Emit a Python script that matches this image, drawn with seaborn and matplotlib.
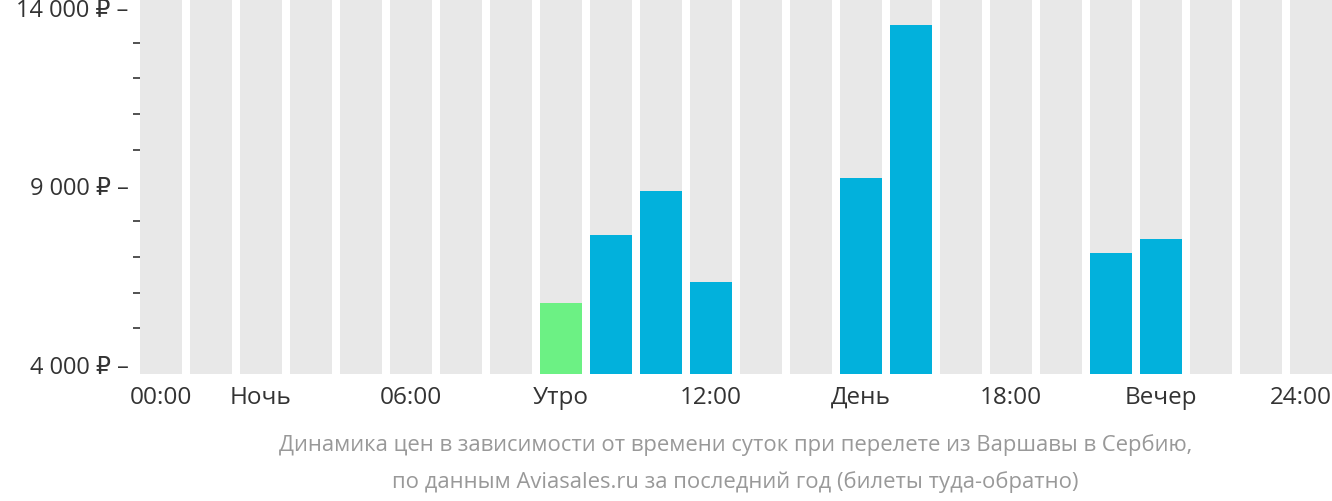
import matplotlib
matplotlib.use("Agg")
import matplotlib.pyplot as plt
import seaborn as sns
import pandas as pd
import numpy as np

hours = list(range(24))
prices = [0,0,0,0,0,0,0,0,5700,7600,8850,6300,0,0,9200,13500,0,0,0,7100,7500,0,0,0]
colors = ["#e8e8e8"]*24
for h in range(24):
    if prices[h] > 0:
        colors[h] = "#02b1dc"
colors[8] = "#6cf184"
xtick_pos = [0,2,5,8,11,14,17,20,23]
xtick_labels = ["00:00","Ночь","06:00","Утро","12:00","День","18:00","Вечер","24:00"]
ytick_major = [4000, 9000, 14000]
ytick_labels = ["4 000 ₽ –", "9 000 ₽ –", "14 000 ₽ –"]

plt.rcParams["font.family"] = ["Open Sans", "DejaVu Sans"]
fig = plt.figure(figsize=(13.32, 5.02), dpi=100)
ax = fig.add_axes([0.105, 0.253, 0.895, 0.747])
ymin, ymax = 3720, 14224
bg = pd.DataFrame({"h": hours, "v": [ymax - ymin]*24})
sns.barplot(data=bg, x="h", y="v", color="#e8e8e8", width=0.84, ax=ax, bottom=ymin, saturation=1)
df = pd.DataFrame({"h": hours, "v": [p - ymin if p > 0 else 0 for p in prices]})
sns.barplot(data=df, x="h", y="v", hue="h", palette=colors, width=0.84, ax=ax,
            bottom=ymin, saturation=1, legend=False)
ax.set_ylim(ymin, ymax)
ax.set_xlim(-0.42, 23.42)
for s in ax.spines.values():
    s.set_visible(False)
pos = list(xtick_pos)
pos[-1] = 23.42
ax.set_xticks(pos)
labs = ax.set_xticklabels(xtick_labels, fontsize=17.5, color="#333333")
labs[-1].set_ha("right")
ax.tick_params(axis="x", length=0, pad=8)
ax.set_yticks(ytick_major)
ax.set_yticklabels(ytick_labels, fontsize=17, color="#333333")
ax.tick_params(axis="y", length=0, pad=8)
ax.set_yticks([y for y in range(5000, 14000, 1000) if y not in ytick_major], minor=True)
ax.tick_params(axis="y", which="minor", length=5, width=1.2, color="#333333", pad=8)
ax.set_xlabel(""); ax.set_ylabel("")
fig.text(0.552, 0.113, "Динамика цен в зависимости от времени суток при перелете из Варшавы в Сербию,",
         ha="center", va="center", fontsize=15.8, color="#999999")
fig.text(0.552, 0.04, "по данным Aviasales.ru за последний год (билеты туда-обратно)",
         ha="center", va="center", fontsize=15.8, color="#999999")
fig.savefig("out.png", dpi=100)
